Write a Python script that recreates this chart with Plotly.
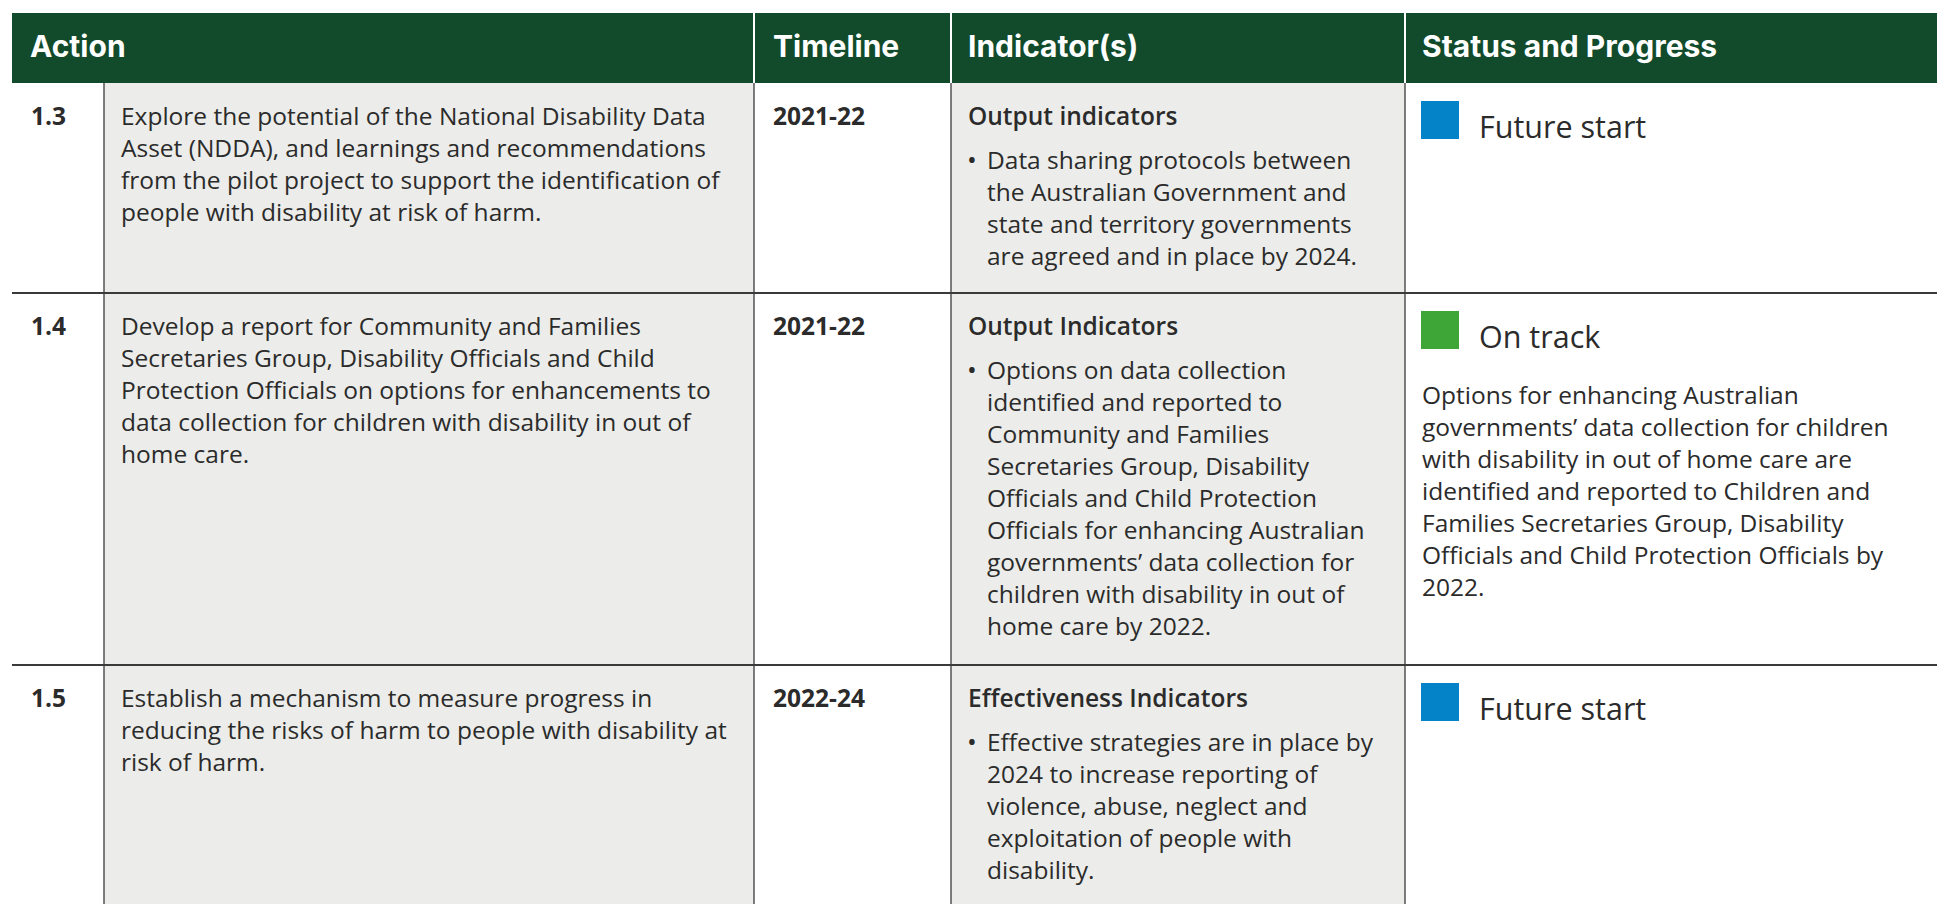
import plotly.graph_objects as go

# ---------------- data ----------------
headers = ["Action", "Timeline", "Indicator(s)", "Status and Progress"]
action_ids = ["1.3", "1.4", "1.5"]
action_text = [
    ["Explore the potential of the National Disability Data",
     "Asset (NDDA), and learnings and recommendations",
     "from the pilot project to support the identification of",
     "people with disability at risk of harm."],
    ["Develop a report for Community and Families",
     "Secretaries Group, Disability Officials and Child",
     "Protection Officials on options for enhancements to",
     "data collection for children with disability in out of",
     "home care."],
    ["Establish a mechanism to measure progress in",
     "reducing the risks of harm to people with disability at",
     "risk of harm."],
]
timelines = ["2021-22", "2021-22", "2022-24"]
indicator_titles = ["Output indicators", "Output Indicators", "Effectiveness Indicators"]
indicator_bullets = [
    ["Data sharing protocols between",
     "the Australian Government and",
     "state and territory governments",
     "are agreed and in place by 2024."],
    ["Options on data collection",
     "identified and reported to",
     "Community and Families",
     "Secretaries Group, Disability",
     "Officials and Child Protection",
     "Officials for enhancing Australian",
     "governments\u2019 data collection for",
     "children with disability in out of",
     "home care by 2022."],
    ["Effective strategies are in place by",
     "2024 to increase reporting of",
     "violence, abuse, neglect and",
     "exploitation of people with",
     "disability."],
]
status_labels = ["Future start", "On track", "Future start"]
status_colors = ["#0483C9", "#3EA537", "#0483C9"]
status_details = [
    [],
    ["Options for enhancing Australian",
     "governments\u2019 data collection for children",
     "with disability in out of home care are",
     "identified and reported to Children and",
     "Families Secretaries Group, Disability",
     "Officials and Child Protection Officials by",
     "2022."],
    [],
]

# ---------------- layout constants ----------------
W, H = 1937, 904
GREEN = "#124B2C"
GREY = "#ECEDEA"
LINE = "#3a3a3a"
TXT = "#2b2b2b"
FONT = "Open Sans"
HFONT = "Inter"
BODY = 24.5

x_left, x_num, x_time, x_ind, x_stat, x_right = 12, 104, 754, 951, 1405, 1937
head_top, head_bot = 13, 83
row_tops = [83, 293, 665]
LH = 32  # line height

fig = go.Figure()
shapes = []
ann = []

def text(x, y, s, size=BODY, weight=400, color=TXT, family=FONT):
    ann.append(dict(x=x, y=y, text=s, showarrow=False,
                    xanchor="left", yanchor="middle", xref="x", yref="y",
                    font=dict(family=family, size=size, color=color, weight=weight)))

# header
shapes.append(dict(type="rect", x0=x_left, x1=x_right, y0=head_top, y1=head_bot,
                   fillcolor=GREEN, line=dict(width=0), layer="below"))
for xv in [x_time, x_ind, x_stat]:
    shapes.append(dict(type="line", x0=xv, x1=xv, y0=head_top, y1=head_bot,
                       line=dict(color="white", width=2)))
head_x = [28, 771, 966, 1420]
for hx, h in zip(head_x, headers):
    text(hx, 46, h, size=30, weight=700, color="white", family=HFONT)

# grey column fills
for x0, x1 in [(x_num, x_time), (x_ind, x_stat)]:
    shapes.append(dict(type="rect", x0=x0, x1=x1, y0=head_bot, y1=H,
                       fillcolor=GREY, line=dict(width=0), layer="below"))
# vertical lines
for xv in [x_num, x_time, x_ind, x_stat]:
    shapes.append(dict(type="line", x0=xv, x1=xv, y0=head_bot, y1=H,
                       line=dict(color=LINE, width=1.3)))
# row separators
for yv in row_tops[1:]:
    shapes.append(dict(type="line", x0=x_left, x1=x_right, y0=yv, y1=yv,
                       line=dict(color=LINE, width=2)))

for i in range(3):
    top = row_tops[i]
    y0 = top + 32
    text(29, y0, action_ids[i], weight=700)
    for k, ln in enumerate(action_text[i]):
        text(119, y0 + k * LH, ln)
    text(771, y0, timelines[i], weight=700)
    text(966, y0, indicator_titles[i], weight=600)
    by = y0 + 44
    for k, ln in enumerate(indicator_bullets[i]):
        if k == 0:
            text(965, by, "\u2022", size=26)
        text(985, by + k * LH, ln)
    sq_top = top + 18
    shapes.append(dict(type="rect", x0=1421, x1=1459, y0=sq_top, y1=sq_top + 38,
                       fillcolor=status_colors[i], line=dict(width=0)))
    ly = sq_top + 19 + 6
    text(1477, ly, status_labels[i], size=30.5)
    for k, ln in enumerate(status_details[i]):
        text(1420, ly + 58 + k * LH, ln)

fig.update_layout(
    width=W, height=H, margin=dict(l=0, r=0, t=0, b=0),
    paper_bgcolor="white", plot_bgcolor="white",
    xaxis=dict(range=[0, W], visible=False, fixedrange=True),
    yaxis=dict(range=[H, 0], visible=False, fixedrange=True),
    shapes=shapes, annotations=ann, showlegend=False,
)
fig.write_html("out.html", config={"displayModeBar": False},
               post_script="document.body.style.margin='0';document.body.style.overflow='hidden';")
